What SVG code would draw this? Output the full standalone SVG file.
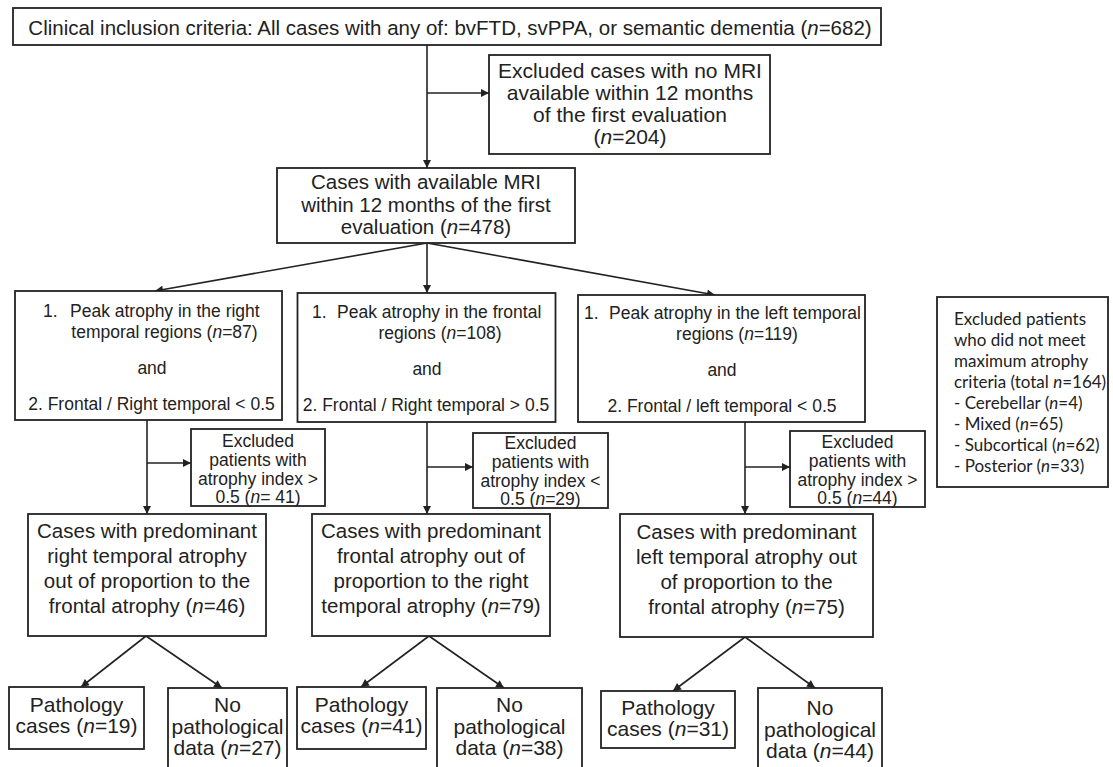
<svg xmlns="http://www.w3.org/2000/svg" width="1113" height="767" viewBox="0 0 1113 767">
<style>
.box{fill:#fff;stroke:#222;stroke-width:1.8}
.t{font-family:"Liberation Sans",Arial,sans-serif;font-size:20.5px;fill:#222;text-anchor:middle}
.b{font-size:21px}
.s{font-family:"Liberation Sans",Arial,sans-serif;font-size:17.5px;fill:#222;text-anchor:middle}
.st{text-anchor:start}
.c{font-family:Lato,"Open Sans",sans-serif;font-size:17px;fill:#222}
.i{font-style:italic}
.ln{fill:none;stroke:#222;stroke-width:1.6}
</style>
<defs>
<marker id="ah" viewBox="0 0 10 10" refX="10" refY="5" markerWidth="9" markerHeight="8" markerUnits="userSpaceOnUse" orient="auto">
<path d="M0,0 L10,5 L0,10 z" fill="#222"/>
</marker>
</defs>
<rect width="1113" height="767" fill="#fff"/>
<g id="connectors">
<line class="ln" x1="427" y1="45" x2="427" y2="168" marker-end="url(#ah)"/>
<line class="ln" x1="427" y1="93" x2="489" y2="93" marker-end="url(#ah)"/>
<line class="ln" x1="427" y1="243" x2="155" y2="291" marker-end="url(#ah)"/>
<line class="ln" x1="427" y1="243" x2="427" y2="293" marker-end="url(#ah)"/>
<line class="ln" x1="427" y1="243" x2="715" y2="295" marker-end="url(#ah)"/>
<line class="ln" x1="147" y1="420" x2="147" y2="514" marker-end="url(#ah)"/>
<line class="ln" x1="147" y1="463" x2="191" y2="463" marker-end="url(#ah)"/>
<line class="ln" x1="427" y1="422" x2="427" y2="514" marker-end="url(#ah)"/>
<line class="ln" x1="427" y1="467" x2="473" y2="467" marker-end="url(#ah)"/>
<line class="ln" x1="745" y1="422" x2="745" y2="514" marker-end="url(#ah)"/>
<line class="ln" x1="745" y1="467" x2="790" y2="467" marker-end="url(#ah)"/>
<line class="ln" x1="146" y1="636" x2="81" y2="687" marker-end="url(#ah)"/>
<line class="ln" x1="146" y1="636" x2="222" y2="688" marker-end="url(#ah)"/>
<line class="ln" x1="429" y1="636" x2="361" y2="687" marker-end="url(#ah)"/>
<line class="ln" x1="429" y1="636" x2="504" y2="688" marker-end="url(#ah)"/>
<line class="ln" x1="745" y1="637" x2="673" y2="691" marker-end="url(#ah)"/>
<line class="ln" x1="745" y1="637" x2="815" y2="688" marker-end="url(#ah)"/>
</g>
<g id="n-clinical">
<rect class="box" x="13" y="8" width="868" height="37"/>
<text class="t" x="450" y="35">Clinical inclusion criteria: All cases with any of: bvFTD, svPPA, or semantic dementia (<tspan class="i">n</tspan>=682)</text>
</g>
<g id="n-excluded-mri">
<rect class="box" x="489" y="55" width="281" height="99"/>
<text class="t b" x="630" y="78">Excluded cases with no MRI</text>
<text class="t b" x="630" y="100">available within 12 months</text>
<text class="t b" x="630" y="122">of the first evaluation</text>
<text class="t b" x="630" y="144">(<tspan class="i">n</tspan>=204)</text>
</g>
<g id="n-mri">
<rect class="box" x="277" y="168" width="298" height="75"/>
<text class="t" x="426" y="189">Cases with available MRI</text>
<text class="t" x="426" y="211.5">within 12 months of the first</text>
<text class="t" x="426" y="234">evaluation (<tspan class="i">n</tspan>=478)</text>
</g>
<g id="n-peak-right">
<rect class="box" x="15" y="291" width="267" height="129"/>
<text class="s st" x="43" y="317">1.</text>
<text class="s st" x="70" y="317">Peak atrophy in the right</text>
<text class="s" x="164.5" y="338">temporal regions (<tspan class="i">n</tspan>=87)</text>
<text class="s" x="152" y="374">and</text>
<text class="s" x="151.5" y="410">2. Frontal / Right temporal &lt; 0.5</text>
</g>
<g id="n-peak-frontal">
<rect class="box" x="297.5" y="293" width="258" height="129"/>
<text class="s st" x="312" y="318">1.</text>
<text class="s st" x="337" y="318">Peak atrophy in the frontal</text>
<text class="s" x="440" y="339">regions (<tspan class="i">n</tspan>=108)</text>
<text class="s" x="427" y="375">and</text>
<text class="s" x="426" y="411">2. Frontal / Right temporal &gt; 0.5</text>
</g>
<g id="n-peak-left">
<rect class="box" x="578" y="295" width="287" height="127"/>
<text class="s st" x="584" y="319">1.</text>
<text class="s st" x="609" y="319">Peak atrophy in the left temporal</text>
<text class="s" x="737" y="340">regions (<tspan class="i">n</tspan>=119)</text>
<text class="s" x="722" y="376">and</text>
<text class="s" x="722" y="412">2. Frontal / left temporal &lt; 0.5</text>
</g>
<g id="n-excluded-total">
<rect class="box" x="937" y="297" width="171" height="190"/>
<text class="c" x="954" y="325">Excluded patients</text>
<text class="c" x="954" y="346">who did not meet</text>
<text class="c" x="954" y="367">maximum atrophy</text>
<text class="c" x="954" y="388">criteria (total <tspan class="i">n</tspan>=164)</text>
<text class="c" x="954" y="409">- Cerebellar (<tspan class="i">n</tspan>=4)</text>
<text class="c" x="954" y="430">- Mixed (<tspan class="i">n</tspan>=65)</text>
<text class="c" x="954" y="451">- Subcortical (<tspan class="i">n</tspan>=62)</text>
<text class="c" x="954" y="472">- Posterior (<tspan class="i">n</tspan>=33)</text>
</g>
<g id="n-excl-1">
<rect class="box" x="191" y="429" width="134" height="77"/>
<text class="s" x="258" y="447">Excluded</text>
<text class="s" x="258" y="466">patients with</text>
<text class="s" x="258" y="485">atrophy index &gt;</text>
<text class="s" x="258" y="503">0.5 (<tspan class="i">n</tspan>= 41)</text>
</g>
<g id="n-excl-2">
<rect class="box" x="473" y="433" width="135" height="75"/>
<text class="s" x="540.5" y="449">Excluded</text>
<text class="s" x="540.5" y="468">patients with</text>
<text class="s" x="540.5" y="487">atrophy index &lt;</text>
<text class="s" x="540.5" y="505">0.5 (<tspan class="i">n</tspan>=29)</text>
</g>
<g id="n-excl-3">
<rect class="box" x="790" y="431" width="135" height="76"/>
<text class="s" x="857.5" y="448">Excluded</text>
<text class="s" x="857.5" y="467">patients with</text>
<text class="s" x="857.5" y="486">atrophy index &gt;</text>
<text class="s" x="857.5" y="504">0.5 (<tspan class="i">n</tspan>=44)</text>
</g>
<g id="n-pred-right">
<rect class="box" x="28" y="514" width="238" height="122"/>
<text class="t" x="147" y="538">Cases with predominant</text>
<text class="t" x="147" y="563">right temporal atrophy</text>
<text class="t" x="147" y="588">out of proportion to the</text>
<text class="t" x="147" y="613">frontal atrophy (<tspan class="i">n</tspan>=46)</text>
</g>
<g id="n-pred-frontal">
<rect class="box" x="312" y="514" width="238" height="122"/>
<text class="t" x="431" y="538">Cases with predominant</text>
<text class="t" x="431" y="563">frontal atrophy out of</text>
<text class="t" x="431" y="588">proportion to the right</text>
<text class="t" x="431" y="613">temporal atrophy (<tspan class="i">n</tspan>=79)</text>
</g>
<g id="n-pred-left">
<rect class="box" x="620" y="514" width="253" height="123"/>
<text class="t" x="746.5" y="539">Cases with predominant</text>
<text class="t" x="746.5" y="564">left temporal atrophy out</text>
<text class="t" x="746.5" y="589">of proportion to the</text>
<text class="t" x="746.5" y="614">frontal atrophy (<tspan class="i">n</tspan>=75)</text>
</g>
<g id="n-path-1">
<rect class="box" x="9" y="687" width="135" height="62"/>
<text class="t b" x="76.5" y="712">Pathology</text>
<text class="t b" x="76.5" y="733">cases (<tspan class="i">n</tspan>=19)</text>
</g>
<g id="n-nopath-1">
<rect class="box" x="168" y="688" width="119" height="84"/>
<text class="t b" x="227.5" y="712">No</text>
<text class="t b" x="227.5" y="733.5">pathological</text>
<text class="t b" x="227.5" y="755">data (<tspan class="i">n</tspan>=27)</text>
</g>
<g id="n-path-2">
<rect class="box" x="297" y="687" width="129" height="62"/>
<text class="t b" x="361.5" y="712">Pathology</text>
<text class="t b" x="361.5" y="733">cases (<tspan class="i">n</tspan>=41)</text>
</g>
<g id="n-nopath-2">
<rect class="box" x="437" y="688" width="145" height="84"/>
<text class="t b" x="509.5" y="712">No</text>
<text class="t b" x="509.5" y="733.5">pathological</text>
<text class="t b" x="509.5" y="755">data (<tspan class="i">n</tspan>=38)</text>
</g>
<g id="n-path-3">
<rect class="box" x="601" y="691" width="134" height="57"/>
<text class="t b" x="668" y="715">Pathology</text>
<text class="t b" x="668" y="736">cases (<tspan class="i">n</tspan>=31)</text>
</g>
<g id="n-nopath-3">
<rect class="box" x="758" y="688" width="124" height="84"/>
<text class="t b" x="820" y="715">No</text>
<text class="t b" x="820" y="736.5">pathological</text>
<text class="t b" x="820" y="758">data (<tspan class="i">n</tspan>=44)</text>
</g>
</svg>
